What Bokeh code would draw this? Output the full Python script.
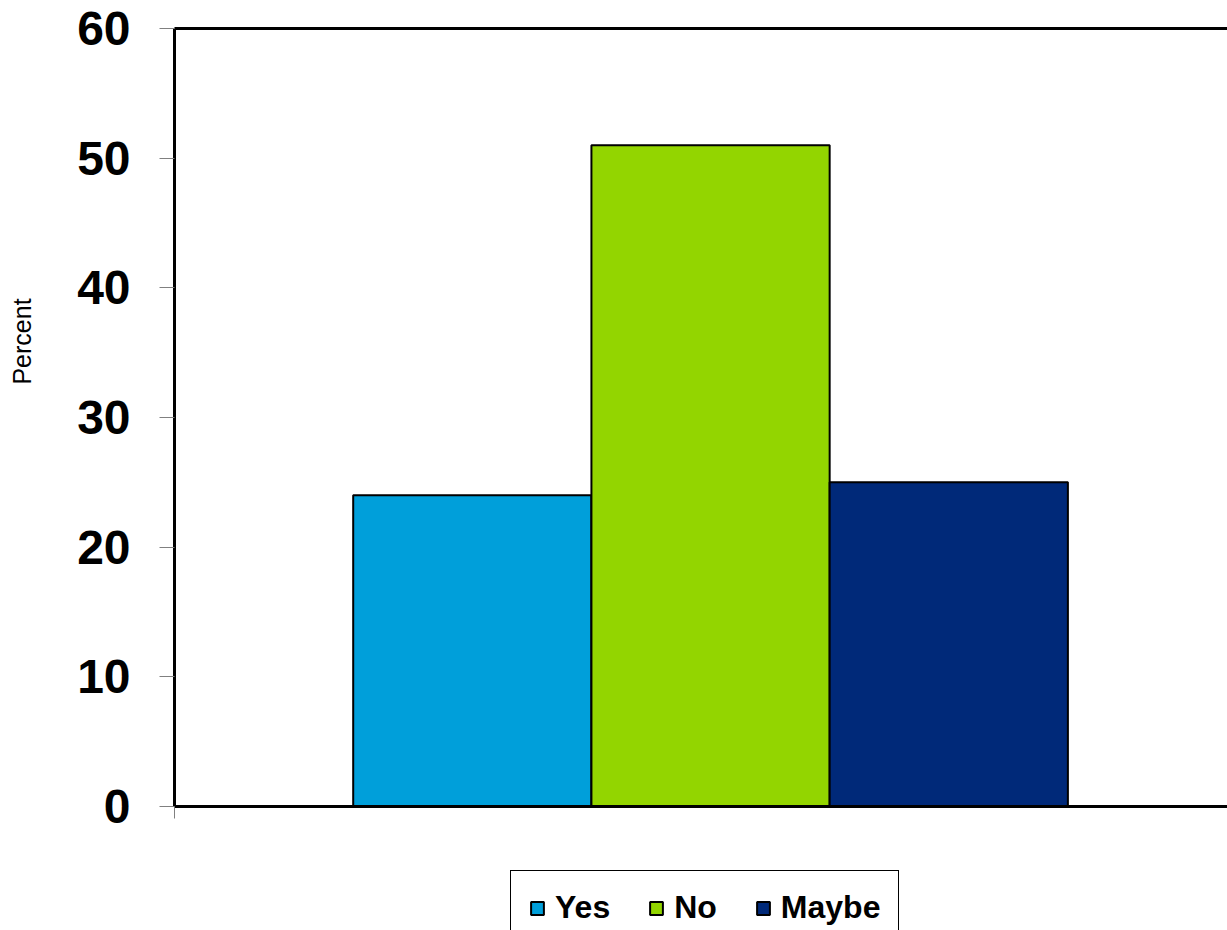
import math
from bokeh.plotting import figure
from bokeh.models import (ColumnDataSource, Range1d, Legend, LegendItem, LinearAxis,
                          FixedTicker, Label)
from bokeh.embed import file_html
from bokeh.resources import INLINE

categories = ["Yes", "No", "Maybe"]
percent = [24, 51, 25]
colors = ["#009FDA", "#93D500", "#002979"]
y_ticks = [0, 10, 20, 30, 40, 50, 60]

FONT = "Liberation Sans"

src = ColumnDataSource(dict(x=list(range(len(categories))), top=percent,
                            cat=categories, color=colors))

X0, X1 = -1.25, 3.17   # plot-area edges in category units
Y0, Y1 = 0, 60         # plot-area edges in percent
# the frame covers the whole canvas; the axes are pinned inside it
p = figure(width=1227, height=930, x_range=Range1d(-1.9805, X1), y_range=Range1d(-9.563, 62.159),
           output_backend="svg", toolbar_location=None,
           min_border_left=0, min_border_right=0, min_border_top=0, min_border_bottom=0)
p.outline_line_color = None
p.xgrid.visible = False
p.ygrid.visible = False
p.background_fill_color = "white"
p.border_fill_color = "white"

r = p.vbar(x="x", top="top", width=1.0, bottom=0, source=src,
           fill_color="color", line_color="black", line_width=2)

# y axis pinned at the left edge of the plot area
ya = p.yaxis[0]
ya.fixed_location = X0
ya.ticker = FixedTicker(ticks=y_ticks)
ya.bounds = (Y0, Y1)
ya.axis_line_width = 3
ya.axis_line_color = "black"
ya.major_tick_out = 15
ya.major_tick_in = 0
ya.major_tick_line_color = "#808080"
ya.major_tick_line_width = 1
ya.minor_tick_line_color = None
ya.major_label_text_font = FONT
ya.major_label_text_font_style = "bold"
ya.major_label_text_font_size = "48px"
ya.major_label_text_color = "black"
ya.major_label_standoff = 29

# x axis drawn at value 0
xa = p.xaxis[0]
xa.fixed_location = Y0
xa.bounds = (X0, X1)
xa.ticker = FixedTicker(ticks=[X0])
xa.major_label_overrides = {X0: ""}
xa.major_label_text_font_size = "1px"
xa.axis_line_width = 3
xa.axis_line_color = "black"
xa.major_tick_out = 12
xa.major_tick_in = 0
xa.major_tick_line_color = "#808080"
xa.minor_tick_line_color = None

# top border of the plot area
top = LinearAxis(ticker=FixedTicker(ticks=[]), major_label_text_font_size="1px",
                 bounds=(X0, X1), fixed_location=Y1,
                 axis_line_width=3, axis_line_color="black",
                 major_tick_line_color=None, minor_tick_line_color=None)
p.add_layout(top, "above")

legend = Legend(items=[LegendItem(label=c, renderers=[r], index=i) for i, c in enumerate(categories)],
                orientation="horizontal", location=(510, -15),
                border_line_color="black", border_line_width=1, border_line_alpha=1.0,
                background_fill_color="white", background_fill_alpha=1.0,
                label_text_font=FONT, label_text_font_style="bold", label_text_color="black",
                label_text_font_size="32px", glyph_width=16, glyph_height=16,
                label_standoff=10, spacing=38, padding=18)
p.add_layout(legend, "center")

p.add_layout(Label(x=21, y=589, x_units="screen", y_units="screen", text="Percent",
                   angle=math.pi / 2, text_align="center", text_baseline="middle",
                   text_font=FONT, text_font_size="25px", text_color="black"))

open("out.html", "w").write(file_html(p, INLINE))
